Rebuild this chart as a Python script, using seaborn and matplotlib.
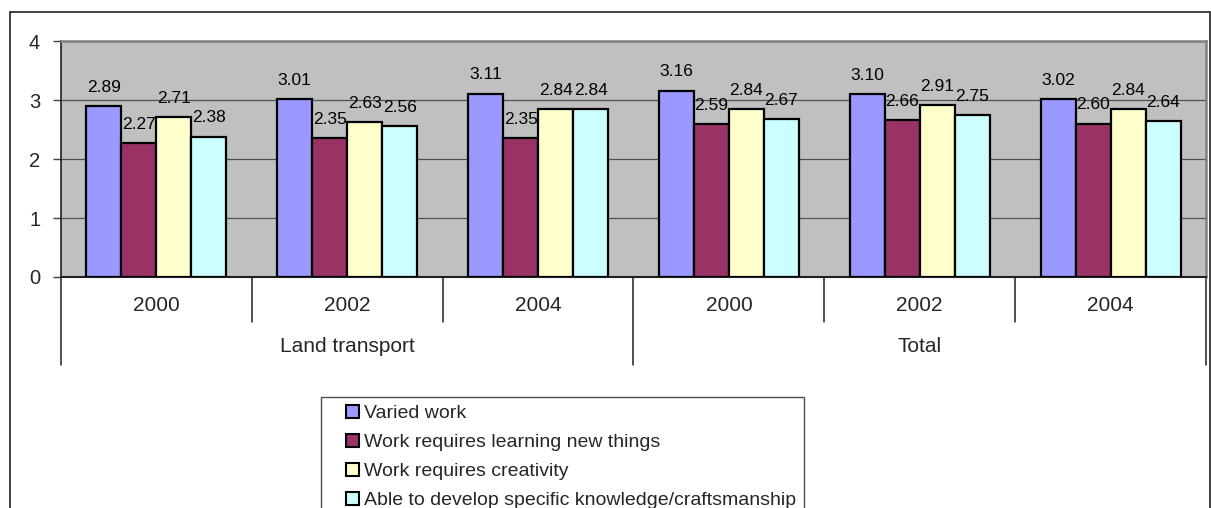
import matplotlib
matplotlib.use("Agg")
import matplotlib.pyplot as plt
import matplotlib.patches as mpatches
from matplotlib.legend_handler import HandlerPatch
import seaborn as sns
import pandas as pd
from matplotlib.transforms import blended_transform_factory

# Category structure
groups = ["Land transport", "Total"]
years = ["2000", "2002", "2004"]
series = [
    "Varied work",
    "Work requires learning new things",
    "Work requires creativity",
    "Able to develop specific knowledge/craftsmanship",
]

# Mean scores per group/year (Land transport 2000, 2002, 2004, Total 2000, 2002, 2004)
varied_work = [2.89, 3.01, 3.11, 3.16, 3.10, 3.02]
learning_new = [2.27, 2.35, 2.35, 2.59, 2.66, 2.60]
creativity = [2.71, 2.63, 2.84, 2.84, 2.91, 2.84]
craftsmanship = [2.38, 2.56, 2.84, 2.67, 2.75, 2.64]

colors = ["#9999FF", "#993366", "#FFFFCC", "#CCFFFF"]

slots = [f"{g}|{y}" for g in groups for y in years]
rows = []
for name, vals in zip(series, [varied_work, learning_new, creativity, craftsmanship]):
    for slot, v in zip(slots, vals):
        rows.append({"slot": slot, "series": name, "value": v})
df = pd.DataFrame(rows)

sns.set_theme(style="white")
plt.rcParams["font.family"] = ["Liberation Sans", "DejaVu Sans"]
narrow = ["Liberation Sans Narrow", "Liberation Sans", "DejaVu Sans"]

fig = plt.figure(figsize=(12.11, 5.08), dpi=100)
ax = fig.add_axes([61 / 1211, 1 - 277 / 508, (1206 - 61) / 1211, (277 - 41) / 508])
ax.set_facecolor("#C0C0C0")

sns.barplot(
    data=df, x="slot", y="value", hue="series", order=slots, hue_order=series,
    palette=colors, width=0.733, gap=0, edgecolor="black", linewidth=1.6,
    saturation=1, errorbar=None, ax=ax, zorder=3,
)

ax.set_ylim(0, 4)
ax.set_xlim(-0.5, len(slots) - 0.5)
ax.set_yticks([0, 1, 2, 3, 4])
ax.yaxis.grid(True, color="#505050", linewidth=0.9, zorder=0)
ax.set_axisbelow(True)
ax.tick_params(axis="y", left=True, length=6, width=1, color="#404040",
               labelsize=14.5, pad=9)
ax.set_xlabel("")
ax.set_ylabel("")

# Value labels above every bar
for container in ax.containers:
    ax.bar_label(container, fmt="%.2f", padding=8, fontsize=12.5,
                 family=narrow, color="black")

# Spines
for side in ["top", "right"]:
    ax.spines[side].set_color("#808080")
    ax.spines[side].set_linewidth(1.8)
ax.spines["left"].set_color("#202020")
ax.spines["left"].set_linewidth(1.2)
ax.spines["bottom"].set_color("#202020")
ax.spines["bottom"].set_linewidth(1.5)

# Two-level category axis
ax.set_xticks(range(len(slots)))
ax.set_xticklabels([s.split("|")[1] for s in slots])
ax.tick_params(axis="x", bottom=False, length=0, labelsize=15, pad=14)

trans = blended_transform_factory(ax.transData, ax.transAxes)
px = 1 / (277 - 41)
for i in range(len(slots) + 1):
    xpos = i - 0.5
    long_line = i % len(years) == 0
    depth = (365 - 277) if long_line else (322 - 277)
    ax.plot([xpos, xpos], [0, -depth * px], transform=trans, color="#202020",
            linewidth=1.1, clip_on=False)
for gi, g in enumerate(groups):
    center = gi * len(years) + (len(years) - 1) / 2
    ax.text(center, -(347 - 277) * px, g, transform=trans, ha="center",
            va="center", fontsize=15)


# Legend keys: small square drawn at the right end of the handle slot
def square_key(legend, orig_handle, xdescent, ydescent, width, height, fontsize):
    side = 12.5 * 72 / 100
    return mpatches.Rectangle((-xdescent + width - side, -ydescent + (height - side) / 2),
                              side, side)


ax.legend_.remove()
handles = [mpatches.Patch(facecolor=c, edgecolor="black", linewidth=1.5, label=s)
           for c, s in zip(colors, series)]
leg = fig.legend(handles=handles, loc="upper left",
                 bbox_to_anchor=(321 / 1211, 1 - 397 / 508),
                 frameon=True, fancybox=False, shadow=False, fontsize=14,
                 handlelength=1.55, handleheight=0.7, handletextpad=0.25,
                 labelspacing=0.58, borderpad=0.4, borderaxespad=0,
                 handler_map={mpatches.Patch: HandlerPatch(patch_func=square_key)})
leg.get_frame().set_edgecolor("#202020")
leg.get_frame().set_linewidth(1.0)

# Chart area border
fig.patches.append(mpatches.Rectangle((10 / 1211, -0.2), (1210 - 10) / 1211,
                                      1.2 - 12 / 508, transform=fig.transFigure,
                                      fill=False, edgecolor="#202020",
                                      linewidth=1.2))

fig.savefig("out.png", dpi=100)
